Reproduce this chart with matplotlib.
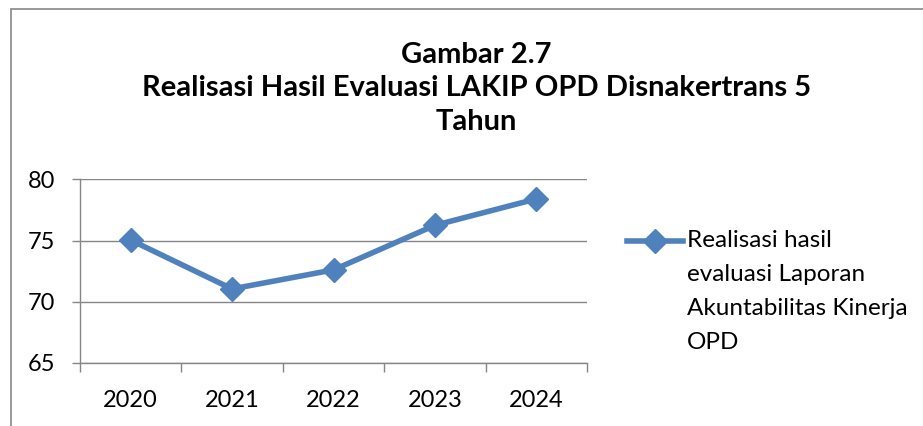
import matplotlib
matplotlib.use("Agg")
from matplotlib import pyplot as plt
from matplotlib.legend_handler import HandlerLine2D
from matplotlib.patches import Rectangle

years = ["2020", "2021", "2022", "2023", "2024"]
realisasi = [75.04, 71.04, 72.6, 76.25, 78.41]
series_label = "Realisasi hasil\nevaluasi Laporan\nAkuntabilitas Kinerja\nOPD"
title_text = "Gambar 2.7\nRealisasi Hasil Evaluasi LAKIP OPD Disnakertrans 5\nTahun"

blue = "#4F81BD"
grey = "#868686"

plt.rcParams["font.family"] = ["Lato", "DejaVu Sans"]


class FirstLineHandler(HandlerLine2D):
    # put the legend sample next to the first line of a multi-line label
    def __init__(self, shift, **kw):
        super().__init__(**kw)
        self.shift = shift

    def create_artists(self, legend, orig_handle, xdescent, ydescent,
                       width, height, fontsize, trans):
        artists = super().create_artists(legend, orig_handle, xdescent, ydescent,
                                         width, height, fontsize, trans)
        for a in artists:
            a.set_ydata([y + self.shift for y in a.get_ydata()])
        return artists


fig = plt.figure(figsize=(9.23, 4.26), dpi=100)
ax = fig.add_axes([80 / 923, 1 - 362.7 / 426, 507 / 923, 183.2 / 426])

x = list(range(len(years)))
line, = ax.plot(x, realisasi, color=blue, lw=4, marker="D", markersize=12,
                label=series_label, zorder=3)

ax.set_ylim(65, 80)
ax.set_yticks([65, 70, 75, 80])
ax.set_xlim(-0.5, len(years) - 0.5)
ax.set_xticks([i - 0.5 for i in range(len(years) + 1)])
ax.set_xticklabels([])
ax.set_xticks(x, minor=True)
ax.set_xticklabels(years, minor=True)
ax.tick_params(axis="x", which="minor", length=0, pad=20, labelsize=17)
ax.tick_params(axis="x", which="major", length=6.5, width=1, color=grey, direction="out")
ax.tick_params(axis="y", length=6, width=1, color=grey, labelsize=17, pad=12)

ax.yaxis.grid(True, color=grey, lw=1)
ax.set_axisbelow(True)
for s in ["top", "right"]:
    ax.spines[s].set_visible(False)
for s in ["left", "bottom"]:
    ax.spines[s].set_color(grey)
    ax.spines[s].set_linewidth(1)

leg = ax.legend(handler_map={line: FirstLineHandler(shift=36)},
                loc="upper left", bbox_to_anchor=(1.079, 0.724), frameon=False,
                fontsize=17.5, handlelength=2.3, handletextpad=0.16,
                borderaxespad=0, borderpad=0)
for t in leg.get_texts():
    t.set_linespacing(1.76)

fig.text(0.516, 0.793, title_text, ha="center", va="center", fontsize=21,
         fontweight="bold", linespacing=1.35)

fig.patches.append(Rectangle((11 / 923, -0.1), 1.2, (426 - 9) / 426 + 0.1,
                             transform=fig.transFigure, fill=False,
                             edgecolor="#888888", lw=1.2))

fig.savefig("out.png", dpi=100)
